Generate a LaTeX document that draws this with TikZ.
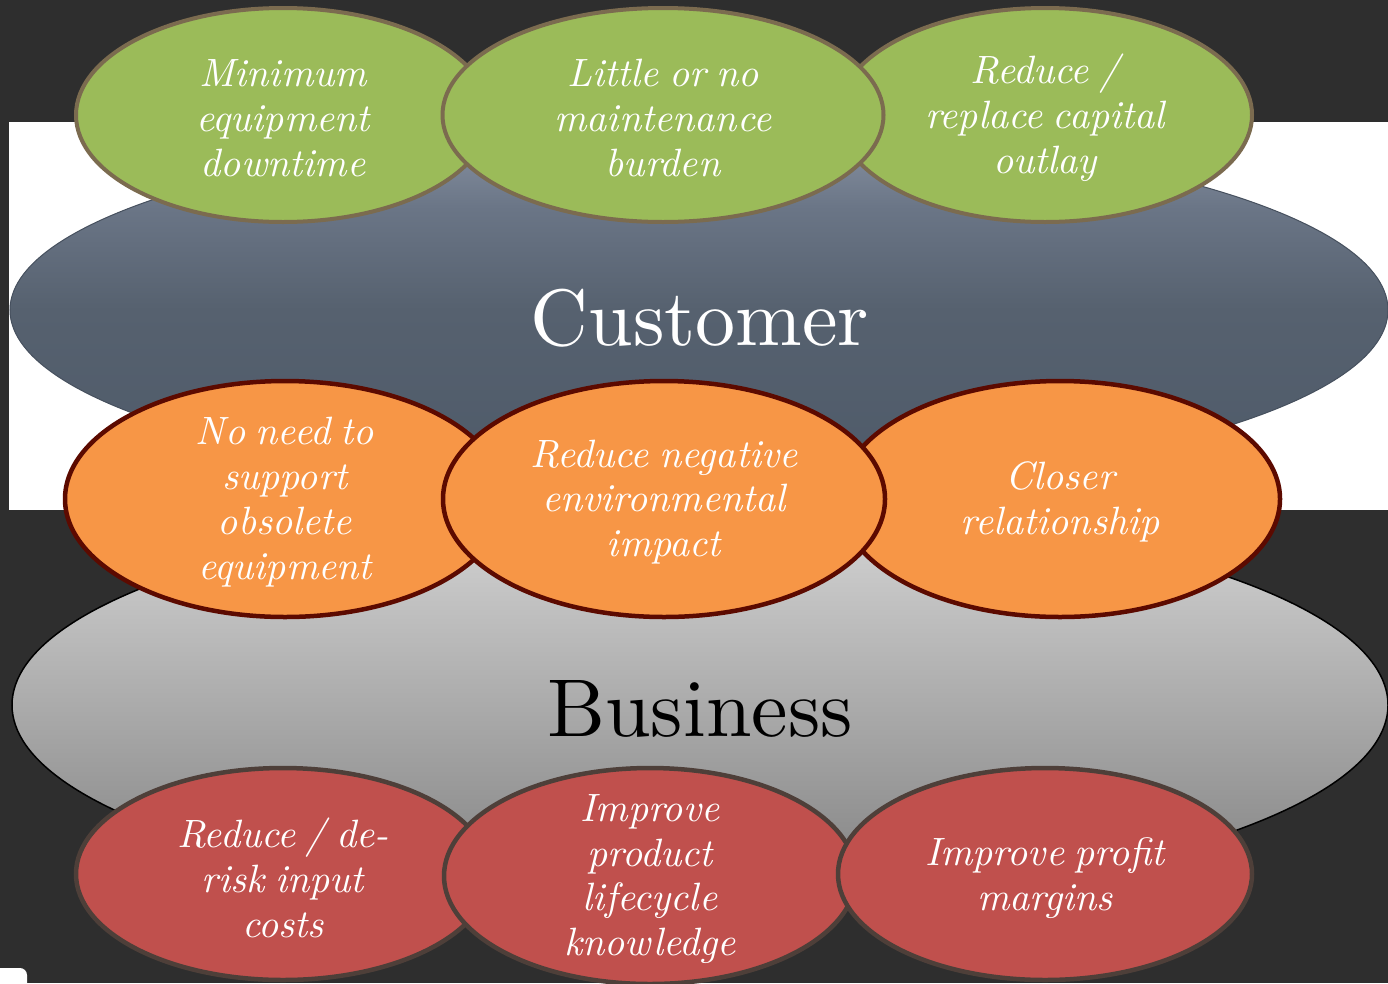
\documentclass[tikz,border=0pt]{standalone}
\usepackage{fontspec}
\setmainfont{lmroman10}[Extension=.otf, UprightFont=*-regular, ItalicFont=*-italic, BoldFont=*-bold]
\usetikzlibrary{shapes.geometric}
\definecolor{bgdark}{HTML}{2E2E2E}
\definecolor{grfill}{HTML}{9BBB59}
\definecolor{grline}{HTML}{7B6B4F}
\definecolor{orfill}{HTML}{F79646}
\definecolor{orline}{HTML}{5C0A00}
\definecolor{rdfill}{HTML}{C0504D}
\definecolor{rdline}{HTML}{4E3F39}
\definecolor{custline}{HTML}{46505E}
\definecolor{cA}{HTML}{8A94A4}
\definecolor{cB}{HTML}{6A7586}
\definecolor{cC}{HTML}{56616F}
\definecolor{cD}{HTML}{4E5A69}
\pgfdeclareverticalshading{custshade}{100bp}{color(0bp)=(cD); color(25bp)=(cD); color(50bp)=(cC); color(64bp)=(cB); color(75bp)=(cA); color(100bp)=(cA)}
\newcommand{\myelltextfont}{\fontsize{39.5}{44.8}\selectfont\itshape\spaceskip=0.26em\relax}
\tikzset{
  bigell/.style={ellipse, inner sep=0pt},
  ell/.style={ellipse, inner sep=0pt},
  elltext/.style={inner sep=0pt, align=center, text=white, font=\myelltextfont},
  greenell/.style={ell, fill=grfill, draw=grline, line width=4pt,
    minimum width=414, minimum height=214},
  orangeell/.style={ell, fill=orfill, draw=orline, line width=4.5pt,
    minimum width=440, minimum height=236},
  redell/.style={ell, fill=rdfill, draw=rdline, line width=4.5pt,
    minimum width=414, minimum height=212},
  biglabel/.style={inner sep=0pt}
}
\begin{document}
\begin{tikzpicture}[x=1pt,y=-1pt]
\useasboundingbox (0,0) rectangle (1388,983);
\clip (0,0) rectangle (1388,983);
\fill[bgdark] (0,0) rectangle (1388,983);
\fill[white] (9,122) rectangle (1390,510);
% big ellipses
\node[bigell, shading=custshade, draw=custline, line width=1pt,
  minimum width=1378, minimum height=362] (cust) at (699,310) {};
\node[bigell, top color=black!16, bottom color=black!50, draw=black, line width=1.5pt,
  minimum width=1376, minimum height=400] (bus) at (700,705) {};
\node[biglabel, text=white, font=\fontsize{80}{90}\selectfont] (custlabel) at (700,318) {Customer};
\node[biglabel, text=black, font=\fontsize{82}{90}\selectfont] (buslabel) at (700,709) {Business};
% green row
\node[greenell] (g1) at (283,115) {};
\node[elltext] (g1t) at (283,118) {Minimum\\equipment\\downtime};
\node[greenell] (g3) at (1045,115) {};
\node[elltext] (g3t) at (1045,118) {Reduce /\\replace capital\\outlay};
\node[greenell, minimum width=441] (g2) at (663,115) {};
\node[elltext] (g2t) at (663,118) {Little or no\\maintenance\\burden};
% orange row
\node[orangeell] (o1) at (285,499) {};
\node[elltext] (o1t) at (285,502) {No need to\\support\\obsolete\\equipment};
\node[orangeell] (o3) at (1060,499) {};
\node[elltext] (o3t) at (1060,502) {Closer\\relationship};
\node[orangeell, minimum width=442] (o2) at (664,499) {};
\node[elltext] (o2t) at (664,502) {Reduce negative\\environmental\\impact};
% red row
\node[redell] (r1) at (283,874) {};
\node[elltext] (r1t) at (283,878) {Reduce / de-\\risk input\\costs};
\node[redell, minimum width=412, minimum height=216] (r2) at (650,876) {};
\node[elltext] (r2t) at (650,879) {Improve\\product\\lifecycle\\knowledge};
\node[redell] (r3) at (1045,874) {};
\node[elltext] (r3t) at (1045,878) {Improve profit\\margins};
% small white mark bottom-left
\fill[white, rounded corners=7pt] (-12,968) rectangle (27,1000);
\end{tikzpicture}
\end{document}
